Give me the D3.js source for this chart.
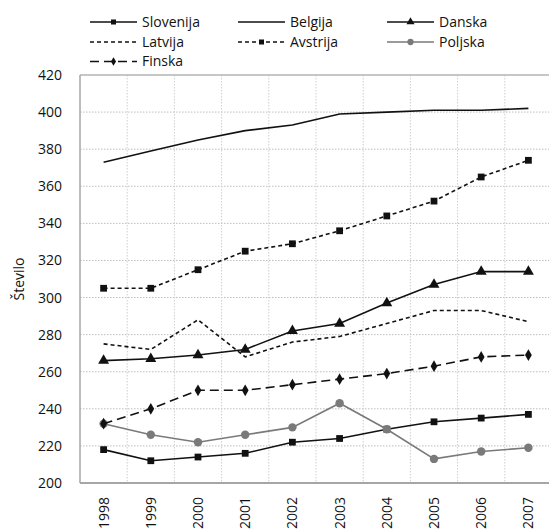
<!DOCTYPE html>
<html>
<head>
<meta charset="utf-8">
<script src="https://cdn.jsdelivr.net/npm/d3@7"></script>
<style>
  body { margin: 0; background: #fff; }
  text { font-family: "Open Sans", sans-serif; fill: #111; }
</style>
</head>
<body>
<div id="chart"></div>
<script>
var years = ["1998","1999","2000","2001","2002","2003","2004","2005","2006","2007"];
var yTicks = [200,220,240,260,280,300,320,340,360,380,400,420];

var slovenija = [218, 212, 214, 216, 222, 224, 229, 233, 235, 237];
var belgija   = [373, 379, 385, 390, 393, 399, 400, 401, 401, 402];
var danska    = [266, 267, 269, 272, 282, 286, 297, 307, 314, 314];
var latvija   = [275, 272, 288, 268, 276, 279, 286, 293, 293, 287];
var avstrija  = [305, 305, 315, 325, 329, 336, 344, 352, 365, 374];
var poljska   = [232, 226, 222, 226, 230, 243, 229, 213, 217, 219];
var finska    = [232, 240, 250, 250, 253, 256, 259, 263, 268, 269];

var seriesNames = ["Slovenija","Belgija","Danska","Latvija","Avstrija","Poljska","Finska"];
var seriesVals  = [slovenija, belgija, danska, latvija, avstrija, poljska, finska];

// style per series: colour, dash, marker
var styles = {
  "Slovenija": {c: "#111", dash: null, m: "square"},
  "Belgija":   {c: "#111", dash: null, m: null},
  "Danska":    {c: "#111", dash: null, m: "triangle"},
  "Latvija":   {c: "#111", dash: "4,3", m: null},
  "Avstrija":  {c: "#111", dash: "4,3", m: "square"},
  "Poljska":   {c: "#7a7a7a", dash: null, m: "circle"},
  "Finska":    {c: "#111", dash: "9,5", m: "diamond"}
};

var W = 549, H = 529;
var margin = {top: 75, left: 80};
var plotW = 472, plotH = 408;

var svg = d3.select("#chart").append("svg")
    .attr("width", W)
    .attr("height", H);

var g = svg.append("g")
    .attr("transform", "translate(" + margin.left + "," + margin.top + ")");

var x = d3.scaleBand().domain(years).range([0, plotW]);
var y = d3.scaleLinear().domain([200, 420]).range([plotH, 0]);

// grid
g.selectAll(".hgrid")
  .data(yTicks.slice(1, -1))
  .enter().append("line")
    .attr("x1", 0).attr("x2", plotW)
    .attr("y1", function(d) { return y(d); })
    .attr("y2", function(d) { return y(d); })
    .attr("stroke", "#bdbdbd")
    .attr("stroke-dasharray", "1.5,1.5");

g.selectAll(".vgrid")
  .data(years.slice(1))
  .enter().append("line")
    .attr("x1", function(d) { return x(d); })
    .attr("x2", function(d) { return x(d); })
    .attr("y1", 0).attr("y2", plotH)
    .attr("stroke", "#cfcfcf")
    .attr("stroke-dasharray", "1.5,1.5");

// frame
g.append("line").attr("x1", 0).attr("x2", plotW).attr("y1", 0).attr("y2", 0)
    .attr("stroke", "#b3b3b3").attr("stroke-width", 1.5);
g.append("line").attr("x1", 0).attr("x2", 0).attr("y1", 0).attr("y2", plotH)
    .attr("stroke", "#a6a6a6").attr("stroke-width", 1.5);
g.append("line").attr("x1", 0).attr("x2", plotW).attr("y1", plotH).attr("y2", plotH)
    .attr("stroke", "#a6a6a6").attr("stroke-width", 2);

// axes (labels only)
var yAxis = g.append("g")
    .call(d3.axisLeft(y).tickValues(yTicks).tickSize(0).tickPadding(18));
yAxis.select(".domain").remove();
yAxis.selectAll("text")
    .style("font-size", "14px")
    .style("font-family", "'Open Sans', sans-serif")
    .attr("fill", "#111");

var xAxis = g.append("g")
    .attr("transform", "translate(0," + plotH + ")")
    .call(d3.axisBottom(x).tickSize(0).tickPadding(0));
xAxis.select(".domain").remove();
xAxis.selectAll("text")
    .style("font-size", "14px")
    .style("font-family", "'Open Sans', sans-serif")
    .attr("fill", "#111")
    .attr("transform", "rotate(-90)")
    .attr("text-anchor", "end")
    .attr("x", -14)
    .attr("y", 0)
    .attr("dy", "0.35em");

svg.append("text")
    .attr("transform", "translate(19," + (margin.top + plotH / 2) + ") rotate(-90)")
    .attr("text-anchor", "middle")
    .attr("dy", "0.35em")
    .style("font-size", "14px")
    .text("Število");

function drawMarker(sel, type, size, color) {
  if (!type) return;
  var sym = {square: d3.symbolSquare, triangle: d3.symbolTriangle,
             circle: d3.symbolCircle, diamond: d3.symbolDiamond}[type];
  sel.append("path")
    .attr("d", d3.symbol().type(sym).size(size))
    .attr("fill", color);
}

var markerSize = {square: 46, triangle: 52, circle: 56, diamond: 40};

var line = d3.line()
    .x(function(d, i) { return x(years[i]) + x.bandwidth() / 2; })
    .y(function(d) { return y(d); });

seriesNames.forEach(function(name, k) {
  var st = styles[name];
  var vals = seriesVals[k];
  g.append("path")
    .datum(vals)
    .attr("fill", "none")
    .attr("stroke", st.c)
    .attr("stroke-width", 1.6)
    .attr("stroke-dasharray", st.dash)
    .attr("d", line);
  if (st.m) {
    vals.forEach(function(v, i) {
      var mg = g.append("g")
        .attr("transform", "translate(" + (x(years[i]) + x.bandwidth() / 2) + "," + y(v) + ")");
      drawMarker(mg, st.m, markerSize[st.m], st.c);
    });
  }
});

// legend
var legCols = [90, 238, 387], legRows = [22, 42, 61.5];
var legend = svg.append("g");
seriesNames.forEach(function(name, k) {
  var st = styles[name];
  var lx = legCols[k % 3], ly = legRows[Math.floor(k / 3)];
  var it = legend.append("g").attr("transform", "translate(" + lx + "," + ly + ")");
  it.append("line")
    .attr("x1", 0).attr("x2", 47)
    .attr("stroke", st.c)
    .attr("stroke-width", 1.5)
    .attr("stroke-dasharray", st.dash);
  var mg = it.append("g").attr("transform", "translate(23.5,0)");
  drawMarker(mg, st.m, markerSize[st.m] * 0.55, st.c);
  it.append("text")
    .attr("x", 52)
    .attr("dy", "0.35em")
    .style("font-size", "14px")
    .text(name);
});
</script>
</body>
</html>
